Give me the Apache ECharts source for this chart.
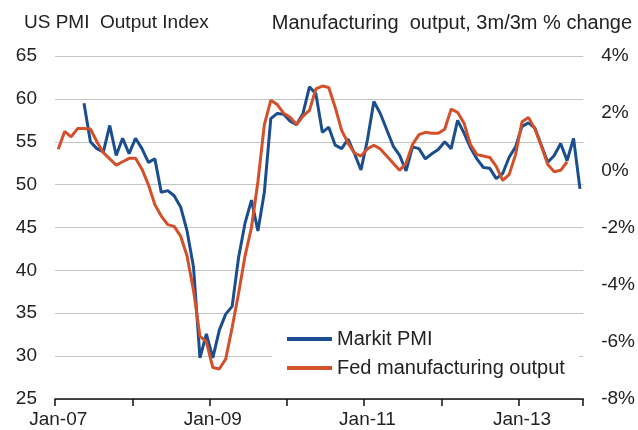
<!DOCTYPE html>
<html>
<head>
<meta charset="utf-8">
<script src="https://cdn.jsdelivr.net/npm/echarts@6/dist/echarts.min.js"></script>
<style>
html,body{margin:0;padding:0;background:#fff;}
#c{width:638px;height:430px;}
</style>
</head>
<body>
<div id="c"></div>
<script>
// Monthly categories Jan-07 .. Oct-13
var monthNames = ['Jan','Feb','Mar','Apr','May','Jun','Jul','Aug','Sep','Oct','Nov','Dec'];
var months = [];
for (var y = 7; y <= 13; y++) {
  for (var m = 0; m < 12; m++) {
    if (y === 13 && m > 9) break;
    months.push(monthNames[m] + '-' + (y < 10 ? '0' + y : '' + y));
  }
}

// Markit PMI (left axis, index)
var markitPMI = [
  null, null, null, null, 59.5, 55.0, 54.2, 53.8, 56.9, 53.4, 55.4, 53.6,
  55.4, 54.2, 52.6, 53.0, 49.1, 49.3, 48.7, 47.4, 44.6, 40.4, 29.8, 32.6,
  29.8, 33.0, 34.9, 35.8, 41.5, 45.5, 48.2, 44.6, 49.1, 57.7, 58.3, 58.2,
  57.4, 57.0, 58.3, 61.4, 60.6, 56.1, 56.7, 54.6, 54.2, 55.3, 53.6, 51.7,
  55.2, 59.7, 58.3, 56.4, 54.5, 53.4, 51.6, 54.4, 54.2, 53.0, 53.6, 54.1,
  55.0, 54.2, 57.5, 56.0, 54.3, 53.0, 52.0, 51.9, 50.7, 51.3, 53.2, 54.4,
  56.8, 57.2, 56.6, 54.6, 52.6, 53.4, 54.8, 52.8, 55.4, 49.5
];

// Fed manufacturing output, 3m/3m % change (right axis)
var fedOutput = [
  0.74, 1.36, 1.17, 1.46, 1.46, 1.45, 1.0, 0.62, 0.4, 0.18, 0.3, 0.42,
  0.42, 0.04, -0.5, -1.2, -1.6, -1.9, -1.96, -2.3, -3.0, -4.2, -5.8, -6.0,
  -6.9, -6.95, -6.6, -5.5, -4.3, -3.0, -2.0, -0.4, 1.6, 2.45, 2.3, 2.0,
  1.86, 1.6, 1.9, 2.1, 2.85, 2.95, 2.9, 2.2, 1.4, 0.95, 0.6, 0.5,
  0.75, 0.88, 0.75, 0.5, 0.25, 0.0, 0.25, 0.9, 1.25, 1.33, 1.3, 1.3,
  1.44, 2.14, 2.03, 1.65, 0.9, 0.55, 0.5, 0.45, 0.14, -0.35, -0.15, 0.55,
  1.7, 1.85, 1.45, 0.85, 0.2, -0.05, 0.0, 0.3, null, null
];

var leftTicks = {min: 25, max: 65, step: 5};
var rightTicks = {min: -8, max: 4, step: 2};

var FONT = "'Liberation Sans', Arial, sans-serif";
var TXT = '#222';
var BLUE = '#1a4e8e';
var ORANGE = '#d2502a';

var chart = echarts.init(document.getElementById('c'), null, {renderer: 'canvas'});
chart.setOption({
  animation: false,
  backgroundColor: '#fff',
  textStyle: {fontFamily: FONT},
  grid: {left: 55, right: 53, top: 56, bottom: 31, containLabel: false},
  graphic: [
    {type: 'text', left: 24, top: 13, style: {text: 'US PMI  Output Index', font: '19px ' + FONT, fill: TXT}},
    {type: 'text', right: 6, top: 13, style: {text: 'Manufacturing  output, 3m/3m % change', font: '20px ' + FONT, fill: TXT}}
  ],
  legend: {
    orient: 'vertical',
    left: 272, top: 321,
    padding: [8, 14, 8, 15],
    itemGap: 9,
    itemWidth: 45, itemHeight: 4,
    icon: 'rect',
    backgroundColor: '#fff',
    textStyle: {fontSize: 20, color: TXT, fontFamily: FONT, lineHeight: 20},
    data: ['Markit PMI', 'Fed manufacturing output']
  },
  xAxis: {
    type: 'category',
    data: months,
    boundaryGap: true,
    axisLine: {onZero: false, lineStyle: {color: '#111', width: 1.5}},
    axisTick: {
      show: true,
      inside: false,
      length: 7,
      lineStyle: {color: '#111', width: 1.5},
      interval: function (i) { return i % 12 === 0; }
    },
    axisLabel: {
      margin: 11,
      fontSize: 19,
      color: TXT,
      fontFamily: FONT,
      interval: function (i) { return i % 24 === 0; }
    },
    splitLine: {show: false}
  },
  yAxis: [
    {
      type: 'value',
      min: leftTicks.min, max: leftTicks.max, interval: leftTicks.step,
      axisLine: {show: false}, axisTick: {show: false},
      axisLabel: {margin: 18, fontSize: 19, color: TXT, fontFamily: FONT},
      splitLine: {lineStyle: {color: '#c4c4c4', width: 1}}
    },
    {
      type: 'value',
      min: rightTicks.min, max: rightTicks.max, interval: rightTicks.step,
      axisLine: {show: false}, axisTick: {show: false},
      axisLabel: {margin: 18, fontSize: 19, color: TXT, fontFamily: FONT, formatter: '{value}%'},
      splitLine: {show: false}
    }
  ],
  series: [
    {
      name: 'Markit PMI', type: 'line', yAxisIndex: 0, data: markitPMI,
      symbol: 'none', lineStyle: {color: BLUE, width: 3}, itemStyle: {color: BLUE}
    },
    {
      name: 'Fed manufacturing output', type: 'line', yAxisIndex: 1, data: fedOutput,
      symbol: 'none', lineStyle: {color: ORANGE, width: 3}, itemStyle: {color: ORANGE}
    }
  ]
});
</script>
</body>
</html>
